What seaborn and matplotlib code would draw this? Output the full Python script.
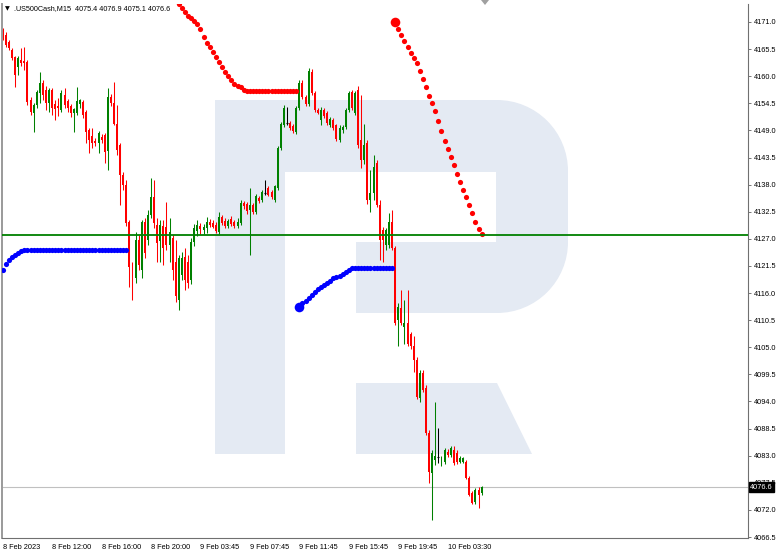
import matplotlib
matplotlib.use('Agg')
import matplotlib.pyplot as plt
import matplotlib.transforms as mtransforms
from matplotlib.patches import Rectangle, Polygon, Wedge
import numpy as np
import pandas as pd
import seaborn as sns

symbol = '.US500Cash,M15'

# M15 bars, bar 0 = 8 Feb 2023 08:00
opens = [4169.3, 4168.3, 4166.9, 4165.3, 4163.9, 4161.8, 4163.2, 4163.0, 4162.8, 4155.2,
         4152.6, 4154.2, 4156.6, 4158.6, 4157.2, 4154.6, 4157.2, 4154.4, 4154.0, 4153.2,
         4156.2, 4155.0, 4154.0, 4152.6, 4152.6, 4154.4, 4154.8, 4152.8, 4149.0, 4147.8,
         4146.8, 4146.4, 4147.6, 4148.0, 4144.8, 4155.8, 4154.6, 4150.4, 4146.0, 4139.9,
         4137.9, 4130.5, 4120.3, 4119.1, 4126.7, 4120.7, 4130.5, 4126.7, 4131.9, 4135.5,
         4129.9, 4126.5, 4129.7, 4129.5, 4125.7, 4127.1, 4122.3, 4114.6, 4119.7, 4123.3,
         4122.3, 4118.7, 4126.3, 4128.5, 4129.7, 4128.7, 4129.1, 4130.5, 4130.3, 4129.9,
         4128.3, 4131.5, 4130.7, 4129.7, 4131.1, 4130.5, 4129.7, 4130.3, 4134.3, 4134.1,
         4132.9, 4133.9, 4132.5, 4135.3, 4134.9, 4136.3, 4137.3, 4136.5, 4134.9, 4137.3,
         4145.4, 4150.0, 4150.6, 4150.6, 4149.8, 4148.6, 4153.6, 4158.6, 4155.8, 4154.4,
         4160.8, 4156.6, 4153.2, 4151.2, 4153.2, 4152.6, 4150.0, 4151.2, 4150.0, 4147.0,
         4149.0, 4149.6, 4153.2, 4156.8, 4152.6, 4157.2, 4147.0, 4143.0, 4146.4, 4134.9,
         4136.3, 4142.4, 4133.9, 4128.7, 4125.7, 4125.7, 4130.5, 4125.1, 4110.6, 4113.0,
         4109.2, 4110.0, 4107.6, 4105.2, 4102.4, 4094.8, 4099.8, 4096.8, 4087.6, 4079.4,
         4082.2, 4082.8, 4081.6, 4081.8, 4083.8, 4083.2, 4084.2, 4083.6, 4081.8, 4081.8,
         4081.8, 4078.4, 4075.4, 4073.6, 4076.0, 4075.4]
highs = [4169.7, 4168.9, 4167.3, 4165.7, 4164.1, 4164.1, 4165.7, 4165.9, 4163.2, 4155.8,
         4154.6, 4157.2, 4160.8, 4159.2, 4158.0, 4157.6, 4157.6, 4155.2, 4155.6, 4157.2,
         4157.6, 4155.4, 4154.4, 4153.6, 4157.8, 4155.4, 4155.2, 4153.2, 4149.4, 4149.4,
         4147.4, 4148.8, 4148.2, 4148.4, 4157.6, 4156.4, 4158.8, 4154.2, 4146.4, 4140.5,
         4138.9, 4130.9, 4122.3, 4128.3, 4127.7, 4130.9, 4131.3, 4132.9, 4139.3, 4138.9,
         4131.3, 4130.9, 4130.9, 4134.5, 4131.3, 4127.7, 4126.7, 4123.7, 4124.3, 4125.1,
         4123.7, 4127.1, 4130.1, 4130.9, 4130.3, 4130.1, 4131.5, 4131.1, 4130.9, 4130.5,
         4132.5, 4131.9, 4131.3, 4131.1, 4131.7, 4130.9, 4131.3, 4134.9, 4134.7, 4134.5,
         4137.3, 4134.3, 4136.1, 4135.7, 4136.9, 4138.9, 4137.7, 4136.9, 4137.9, 4145.8,
         4150.8, 4154.2, 4153.8, 4151.0, 4150.4, 4154.0, 4159.2, 4159.2, 4156.2, 4161.6,
         4161.4, 4157.0, 4153.6, 4153.8, 4153.6, 4153.0, 4151.8, 4151.6, 4150.4, 4150.0,
         4150.0, 4153.6, 4157.0, 4157.2, 4157.0, 4158.0, 4156.2, 4150.4, 4147.0, 4140.9,
         4144.0, 4143.0, 4134.9, 4129.5, 4129.1, 4132.3, 4132.9, 4125.5, 4114.0, 4116.6,
         4114.6, 4116.6, 4108.0, 4107.2, 4103.0, 4100.4, 4100.4, 4097.4, 4088.2, 4084.2,
         4093.8, 4088.6, 4083.0, 4084.6, 4084.4, 4085.0, 4085.0, 4084.2, 4083.0, 4082.8,
         4082.2, 4078.8, 4075.8, 4076.4, 4076.6, 4076.9]
lows = [4167.3, 4165.9, 4165.3, 4163.3, 4157.8, 4160.2, 4162.0, 4161.2, 4154.2, 4152.2,
        4148.6, 4153.6, 4154.6, 4155.2, 4153.2, 4152.8, 4152.2, 4151.2, 4152.0, 4152.8,
        4153.6, 4152.8, 4151.8, 4148.6, 4152.2, 4153.6, 4151.6, 4146.4, 4144.4, 4145.4,
        4145.8, 4144.4, 4146.4, 4142.4, 4141.0, 4154.0, 4150.0, 4144.0, 4133.9, 4136.9,
        4129.7, 4117.3, 4114.6, 4118.1, 4120.7, 4119.1, 4123.1, 4125.7, 4131.3, 4129.3,
        4122.3, 4122.3, 4121.7, 4124.7, 4122.3, 4118.7, 4114.2, 4112.6, 4118.7, 4116.7,
        4117.1, 4117.9, 4125.5, 4127.5, 4127.9, 4127.9, 4128.1, 4129.5, 4129.1, 4128.1,
        4127.9, 4129.9, 4129.3, 4129.3, 4129.7, 4129.1, 4129.3, 4129.9, 4133.1, 4132.1,
        4123.7, 4132.1, 4132.1, 4134.3, 4134.5, 4135.9, 4135.7, 4135.1, 4134.5, 4136.9,
        4145.0, 4149.6, 4150.2, 4149.0, 4148.4, 4148.2, 4153.2, 4155.4, 4154.0, 4154.0,
        4156.2, 4152.8, 4152.4, 4150.0, 4151.6, 4150.0, 4149.6, 4149.0, 4146.8, 4146.6,
        4148.4, 4149.2, 4152.8, 4153.2, 4152.2, 4145.4, 4141.4, 4142.2, 4134.1, 4132.5,
        4134.9, 4133.5, 4122.7, 4122.3, 4124.7, 4125.1, 4124.7, 4109.6, 4105.2, 4109.6,
        4105.6, 4105.2, 4104.6, 4100.0, 4094.6, 4093.8, 4096.0, 4087.2, 4077.4, 4070.0,
        4081.2, 4081.6, 4081.0, 4081.4, 4082.8, 4082.8, 4081.2, 4081.4, 4081.6, 4081.6,
        4078.2, 4074.8, 4073.2, 4073.2, 4072.4, 4075.1]
closes = [4167.7, 4166.3, 4165.7, 4163.7, 4160.2, 4163.7, 4162.6, 4162.6, 4154.8, 4152.8,
          4154.2, 4156.8, 4158.6, 4156.2, 4154.6, 4157.2, 4153.6, 4153.4, 4153.6, 4156.6,
          4154.2, 4153.6, 4152.6, 4153.4, 4155.0, 4155.2, 4152.2, 4148.6, 4147.0, 4146.4,
          4146.4, 4148.4, 4147.0, 4144.6, 4155.8, 4154.6, 4150.4, 4145.0, 4139.9, 4137.9,
          4130.3, 4121.3, 4116.7, 4126.7, 4121.7, 4130.5, 4124.1, 4131.9, 4135.5, 4130.3,
          4126.1, 4129.9, 4125.1, 4125.7, 4128.3, 4120.7, 4115.5, 4123.1, 4123.1, 4118.7,
          4118.1, 4126.3, 4129.3, 4129.9, 4128.9, 4129.5, 4130.5, 4129.9, 4129.5, 4128.5,
          4131.5, 4130.3, 4129.7, 4130.7, 4130.1, 4129.7, 4130.5, 4134.3, 4133.7, 4132.7,
          4133.9, 4132.5, 4135.7, 4134.7, 4136.5, 4136.3, 4135.9, 4135.5, 4137.7, 4145.4,
          4150.4, 4153.6, 4150.6, 4149.4, 4148.8, 4153.6, 4158.6, 4155.8, 4154.4, 4161.0,
          4156.6, 4153.2, 4152.6, 4153.2, 4152.0, 4150.6, 4151.4, 4149.4, 4147.2, 4149.4,
          4149.6, 4153.2, 4156.6, 4153.6, 4156.6, 4146.0, 4143.0, 4146.0, 4134.9, 4136.3,
          4141.6, 4133.9, 4126.7, 4126.7, 4128.7, 4130.5, 4125.1, 4110.0, 4113.2, 4110.0,
          4110.0, 4105.6, 4105.2, 4102.4, 4095.0, 4099.8, 4096.4, 4087.6, 4079.6, 4083.6,
          4083.0, 4082.8, 4082.2, 4084.2, 4083.2, 4084.6, 4081.6, 4081.8, 4082.6, 4082.6,
          4078.4, 4075.0, 4073.4, 4076.0, 4075.0, 4076.6]

# trailing stop dots: first bar index + one value per bar
red1_start = 55
red1 = [4175.6, 4175.3, 4174.7, 4173.8, 4173.0, 4172.3, 4171.8, 4171.2, 4170.6, 4169.6,
        4168.0, 4166.7, 4165.9, 4164.9, 4163.9, 4162.9, 4161.9, 4160.9, 4160.0, 4159.2,
        4158.5, 4158.1, 4157.8, 4157.2, 4156.9, 4156.9, 4156.9, 4156.9, 4156.9, 4156.9,
        4156.9, 4156.9, 4156.9, 4156.9, 4156.9, 4156.9, 4156.9, 4156.9, 4156.9, 4156.9,
        4156.9]
blue1_start = 0
blue1 = [4120.7, 4121.9, 4122.7, 4123.3, 4123.7, 4124.1, 4124.5, 4124.7, 4124.7, 4124.7,
         4124.7, 4124.7, 4124.7, 4124.7, 4124.7, 4124.7, 4124.7, 4124.7, 4124.7, 4124.7,
         4124.7, 4124.7, 4124.7, 4124.7, 4124.7, 4124.7, 4124.7, 4124.7, 4124.7, 4124.7,
         4124.7, 4124.7, 4124.7, 4124.7, 4124.7, 4124.7, 4124.7, 4124.7, 4124.7, 4124.7,
         4124.7]
blue2_start = 96
blue2 = [4113.2, 4113.9, 4114.4, 4115.0, 4115.6, 4116.2, 4116.8, 4117.2, 4117.6, 4118.1,
         4118.5, 4119.0, 4119.3, 4119.5, 4119.9, 4120.3, 4120.7, 4121.0, 4121.1, 4121.1,
         4121.1, 4121.1, 4121.1, 4121.1, 4121.1, 4121.1, 4121.1, 4121.1, 4121.1, 4121.1,
         4121.1]
red2_start = 127
red2 = [4171.0, 4169.6, 4168.4, 4167.1, 4165.9, 4164.7, 4163.7, 4162.7, 4161.1, 4159.5,
        4157.8, 4156.0, 4154.5, 4152.9, 4150.9, 4148.9, 4146.9, 4145.2, 4143.6, 4141.9,
        4140.2, 4138.6, 4137.0, 4135.5, 4133.9, 4132.2, 4130.4, 4129.0, 4128.0]

level_line = 4127.8

x_tick_bars = [0, 16, 32, 48, 64, 80, 96, 112, 128, 144]
x_tick_labels = ['8 Feb 2023', '8 Feb 12:00', '8 Feb 16:00', '8 Feb 20:00', '9 Feb 03:45',
                 '9 Feb 07:45', '9 Feb 11:45', '9 Feb 15:45', '9 Feb 19:45', '10 Feb 03:30']
y_ticks = [4171.0, 4165.5, 4160.0, 4154.5, 4149.0, 4143.5, 4138.0, 4132.5, 4127.0, 4121.5,
           4116.0, 4110.5, 4105.0, 4099.5, 4094.0, 4088.5, 4083.0, 4077.5, 4072.0, 4066.5]

GREEN = '#008000'
RED = '#FF0000'
BLUE = '#0000FF'
WM = '#E4EAF3'

sns.set_style('white')
plt.rcParams['font.family'] = ['Liberation Sans', 'DejaVu Sans']

fig = plt.figure(figsize=(7.82, 5.55), dpi=100)
fig.patch.set_facecolor('white')

# background layer in pixel coords: watermark logo
bg = fig.add_axes([0, 0, 1, 1], zorder=0)
bg.set_xlim(0, 782)
bg.set_ylim(555, 0)
bg.axis('off')
bg.add_patch(Rectangle((215, 100), 70, 354, color=WM, lw=0))
bg.add_patch(Rectangle((215, 100), 282, 72, color=WM, lw=0))
bg.add_patch(Rectangle((356, 242), 141, 71, color=WM, lw=0))
bg.add_patch(Rectangle((496, 170), 72, 73, color=WM, lw=0))
bg.add_patch(Wedge((497, 171), 71, -90, 0, color=WM, lw=0))
bg.add_patch(Wedge((497, 242), 71, 0, 90, color=WM, lw=0))
bg.add_patch(Polygon([(356, 383), (497, 383), (532, 454), (356, 454)], closed=True, color=WM, lw=0))
bg.add_patch(Polygon([(481, 0), (489, 0), (485, 5)], closed=True, color='#A0A0A0', lw=0))

ax = fig.add_axes([2 / 782, 17 / 555, 746 / 782, 534 / 555], zorder=1)
ax.set_facecolor('none')

o = np.array(opens)
h = np.array(highs)
l = np.array(lows)
c = np.array(closes)
xs = np.arange(len(c))
cols = np.where(c > o, GREEN, np.where(c < o, RED, 'black'))
flat = c == o

ax.vlines(xs, l, h, colors=cols, lw=0.75, zorder=2)
ax.bar(xs, np.abs(c - o), bottom=np.minimum(o, c), width=0.64, color=cols, linewidth=0, zorder=2.1)
ax.hlines(o[flat], xs[flat] - 0.35, xs[flat] + 0.35, colors='black', lw=0.8, zorder=2.1)

# indicator dots
for start, vals, col in [(red1_start, red1, RED), (blue1_start, blue1, BLUE),
                         (blue2_start, blue2, BLUE), (red2_start, red2, RED)]:
    df = pd.DataFrame({'bar': np.arange(start, start + len(vals)), 'val': vals})
    sns.scatterplot(data=df, x='bar', y='val', color=col, s=14, linewidth=0,
                    legend=False, ax=ax, zorder=3)
for start, vals, col in [(blue2_start, blue2, BLUE), (red2_start, red2, RED)]:
    ax.scatter([start], [vals[0]], color=col, s=48, linewidth=0, zorder=3)

ax.axhline(level_line, color=GREEN, lw=1.3, zorder=4)
ax.axhline(closes[-1], color='#C0C0C0', lw=0.8, zorder=1.5)

ax.set_xlim(-0.23, 241.19)
ax.set_ylim(4066.3, 4174.65)
ax.set_xlabel('')
ax.set_ylabel('')

ax.set_xticks(x_tick_bars)
ax.set_xticklabels(x_tick_labels, ha='left')
ax.yaxis.tick_right()
ax.set_yticks(y_ticks)
ax.set_yticklabels(['%.1f' % v for v in y_ticks])
ax.tick_params(axis='x', direction='out', length=3, width=0.6, color='#606060',
               labelsize=5.3, pad=1, labelcolor='black')
ax.tick_params(axis='y', direction='out', length=2.5, width=0.6, color='#606060',
               labelsize=5.3, pad=1.5, labelcolor='black')

ax.spines['top'].set_visible(False)
ax.spines['left'].set_color('#9A9A9A')
ax.spines['left'].set_linewidth(1.4)
for side in ['right', 'bottom']:
    ax.spines[side].set_color('#707070')
    ax.spines[side].set_linewidth(0.8)

# current price tag on the price scale
trans = mtransforms.blended_transform_factory(ax.transAxes, ax.transData)
ax.text(1.003, closes[-1], '%.1f' % closes[-1], transform=trans, color='white',
        fontsize=5.3, va='center', ha='left', clip_on=False, zorder=10,
        bbox=dict(boxstyle='square,pad=0.2', fc='black', ec='black'))

# chart header
fig.text(7 / 782, 1 - 9 / 555, '\u25bc', fontsize=4.5, va='center', ha='center',
         family=['DejaVu Sans'], color='black')
fig.text(14 / 782, 1 - 9 / 555,
         '%s  %.1f %.1f %.1f %.1f' % (symbol, opens[-1], highs[-1], lows[-1], closes[-1]),
         fontsize=5.2, va='center', ha='left', color='black')

fig.savefig('out.png', dpi=100)
